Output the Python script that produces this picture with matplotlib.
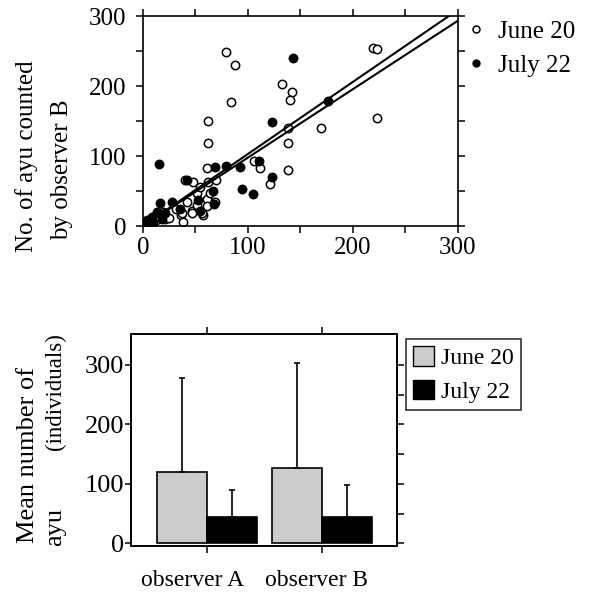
import numpy as np
import matplotlib
matplotlib.use('Agg')
import matplotlib.pyplot as plt
from matplotlib.patches import Patch
from matplotlib.lines import Line2D

plt.rcParams['font.family'] = ['Liberation Serif', 'DejaVu Serif']

# scatter: counts by observer A (x) vs observer B (y)
june_x = [79, 87.6, 83.5, 62.2, 62.2, 132, 141.9, 140.4, 137.8, 138.4, 169.5, 138,
          219.4, 222.5, 222.5, 105.7, 111.4, 121, 60.6, 69.5, 40, 47.3, 62.2, 41.6,
          46.3, 35.9, 56.8, 60.6, 68.6, 60.6, 51.1, 63.8, 54.3, 31.4, 19.4, 21,
          36.8, 46.3, 55.9, 51.1, 38.4, 12, 8, 25]
june_y = [249, 230, 177.6, 150.5, 119, 203, 192, 180, 140.5, 119, 140.5, 80,
          254.8, 253, 155, 92.4, 82.4, 59.5, 82.4, 65.7, 65.7, 63.3, 63, 34.8,
          21.9, 15.7, 15.7, 38, 34.8, 29, 46.7, 46.7, 56, 25, 19.4, 10,
          18, 18, 18, 30, 6, 8, 5, 12]
july_x = [142.5, 176.5, 122.5, 15.2, 68.6, 79, 92.4, 110.8, 122.5, 94, 105, 66.4,
          67.9, 52.7, 54.3, 41.6, 27.3, 16.2, 35.2, 8.3, 3.5, 21, 13, 6, 18, 10, 2]
july_y = [240.5, 178.6, 149, 88.6, 84.8, 86, 84.8, 92.9, 70.5, 52.9, 45.2, 50.5,
          31.4, 37, 22, 65.7, 34.8, 32.4, 25, 13.3, 8, 18, 19.6, 4, 10, 6, 2]
fit_slopes = [1.03, 0.978]

# bar chart: mean and SD
observers = ['observer A', 'observer B']
june_mean = [119.5, 127.3]
june_sd = [159.3, 176.7]
july_mean = [44.8, 44.8]
july_sd = [44.9, 53.2]

fig = plt.figure(figsize=(5.93, 5.94), dpi=100)

# ---- top scatter
ax = fig.add_axes([0.2411, 0.6195, 0.5312, 0.3535])
ax.plot(june_x, june_y, 'o', ms=6, mfc='white', mec='black', mew=1.1, ls='none')
ax.plot(july_x, july_y, 'o', ms=6, mfc='black', mec='black', mew=1.1, ls='none')
xx = np.array([0, 300])
for s in fit_slopes:
    ax.plot(xx, s * xx, color='black', lw=1.5)
ax.set_xlim(0, 300)
ax.set_ylim(0, 300)
t = np.arange(0, 301, 50)
lab = [str(v) if v % 100 == 0 else '' for v in t]
ax.set_xticks(t)
ax.set_xticklabels(lab)
ax.set_yticks(t)
ax.set_yticklabels(lab)
ax.tick_params(direction='out', length=5, width=1.1, labelsize=18, pad=3,
               top=True, right=True)
ax.tick_params(axis='y', pad=7)
for sp in ax.spines.values():
    sp.set_linewidth(1.2)

h1 = Line2D([], [], marker='o', ls='none', ms=5, mfc='white', mec='black', mew=1.1)
h2 = Line2D([], [], marker='o', ls='none', ms=5, mfc='black', mec='black')
fig.legend([h1, h2], ['June 20', 'July 22'], loc='upper left',
           bbox_to_anchor=(0.773, 0.982), borderaxespad=0, frameon=False, fontsize=18,
           handletextpad=0.58, labelspacing=0.45, handlelength=0.6)

fig.text(0.044, 0.737, 'No. of ayu counted', rotation=90, ha='center', va='center', fontsize=18)
fig.text(0.105, 0.714, 'by observer B', rotation=90, ha='center', va='center', fontsize=18)

# ---- bottom bar chart
bx = fig.add_axes([0.2209, 0.0808, 0.448, 0.3569])
pos = np.arange(len(observers))
w = 0.435
bx.bar(pos - w / 2, june_mean, w, color='#cccccc', edgecolor='black', lw=1.2,
       yerr=[[0, 0], june_sd], error_kw=dict(ecolor='black', elinewidth=1.2, capsize=2, capthick=1.2))
bx.bar(pos + w / 2, july_mean, w, color='black', edgecolor='black', lw=1.2,
       yerr=[[0, 0], july_sd], error_kw=dict(ecolor='black', elinewidth=1.2, capsize=2, capthick=1.2))
bx.set_xlim(-0.658, 1.652)
bx.set_ylim(-4.5, 352)
bx.set_xticks(pos)
bx.set_xticklabels([])
bx.set_yticks([0, 100, 200, 300])
bx.tick_params(axis='y', direction='out', length=4, width=1.1, labelsize=19, pad=1)
bx.tick_params(axis='x', direction='out', length=5, width=1.1, top=True)
bx2 = bx.twinx()
bx2.set_ylim(bx.get_ylim())
bx2.set_yticks(np.arange(0, 301, 50))
bx2.set_yticklabels([])
bx2.tick_params(direction='out', length=5, width=1.1)
for a in (bx, bx2):
    for sp in a.spines.values():
        sp.set_linewidth(1.2)
label_off = [-0.123, -0.045]
for p, o, name in zip(pos, label_off, observers):
    bx.text(p + o, -0.165, name, transform=bx.get_xaxis_transform(),
            ha='center', va='center', fontsize=17)

leg = fig.legend([Patch(fc='#cccccc', ec='black'), Patch(fc='black', ec='black')],
                 ['June 20', 'July 22'], loc='upper left', bbox_to_anchor=(0.6847, 0.4293),
                 borderaxespad=0, frameon=True, fancybox=False, edgecolor='black',
                 fontsize=17, handlelength=0.9, handleheight=0.9, handletextpad=0.3,
                 borderpad=0.3, labelspacing=0.45)
leg.get_frame().set_linewidth(1.2)

fig.text(0.047, 0.234, 'Mean number of', rotation=90, ha='center', va='center', fontsize=19)
fig.text(0.093, 0.113, 'ayu', rotation=90, ha='center', va='center', fontsize=19)
fig.text(0.093, 0.341, '(individuals)', rotation=90, ha='center', va='center', fontsize=16.5)

fig.savefig('out.png', dpi=100)
